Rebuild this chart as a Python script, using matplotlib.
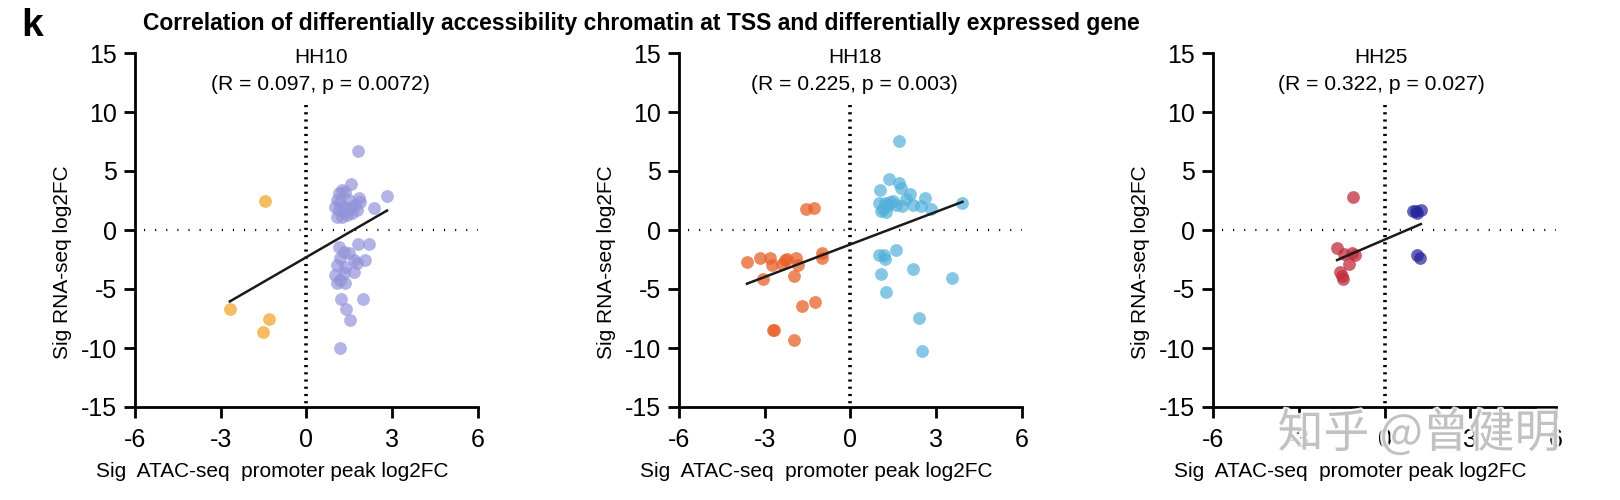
import matplotlib
matplotlib.use("Agg")
import matplotlib.pyplot as plt
import matplotlib.patheffects as pe
import numpy as np

plt.rcParams["font.family"] = ["Liberation Sans", "DejaVu Sans"]
plt.rcParams["axes.unicode_minus"] = False

# HH10
hh10_neg_x = [-1.45, -2.68, -1.31, -1.52]
hh10_neg_y = [2.48, -6.71, -7.56, -8.66]
hh10_pos_x = [1.81, 1.57, 2.82, 2.35, 1.25, 1.13, 1.36, 1.07, 1.19, 1.48, 1.83, 1.89,
              1.71, 1.31, 1.13, 1.54, 1.07, 1.25, 1.42, 1.60, 1.31, 1.77, 1.01,
              1.81, 2.18, 1.13, 1.31, 1.48, 1.19, 1.66, 2.06, 1.07, 1.36, 1.77,
              1.01, 1.31, 1.66, 1.07, 1.36, 1.19, 1.21, 1.97, 1.39, 1.54, 1.19]
hh10_pos_y = [6.69, 3.87, 2.88, 1.84, 3.39, 3.10, 3.25, 2.54, 2.40, 2.54, 2.68, 2.40,
              2.12, 1.98, 1.69, 1.84, 1.13, 1.13, 1.27, 1.41, 1.55, 1.69, 1.98,
              -1.19, -1.19, -1.41, -1.84, -1.98, -2.40, -2.54, -2.54, -2.97, -3.11, -2.82,
              -3.81, -3.67, -3.53, -4.52, -4.52, -4.24, -5.85, -5.85, -6.67, -7.63, -10.03]

# HH18
hh18_neg_x = [-3.62, -3.17, -2.82, -2.74, -3.06, -2.30, -2.22, -1.89, -1.83, -2.38,
              -1.98, -1.01, -1.01, -1.54, -1.28, -1.68, -1.25, -2.68, -2.71, -1.98]
hh18_neg_y = [-2.67, -2.39, -2.39, -2.98, -4.19, -2.56, -2.47, -2.39, -2.98, -2.84,
              -3.88, -1.99, -2.39, 1.74, 1.88, -6.43, -6.10, -8.48, -8.48, -9.33]
hh18_pos_x = [1.70, 1.35, 1.70, 1.78, 1.05, 2.10, 2.60, 1.94, 1.00, 1.20, 1.38, 1.49,
              1.32, 1.14, 1.26, 1.08, 1.61, 2.19, 2.48, 2.83, 1.81, 3.92,
              1.00, 1.17, 1.20, 1.61, 1.08, 2.19, 1.26, 3.56, 2.39, 2.52]
hh18_pos_y = [7.58, 4.33, 3.99, 3.54, 3.43, 3.03, 2.70, 2.64, 2.30, 2.30, 2.36, 2.50,
              2.08, 1.80, 1.52, 1.60, 2.08, 2.08, 2.02, 1.80, 2.02, 2.28,
              -2.13, -2.08, -2.42, -1.69, -3.71, -3.31, -5.28, -4.04, -7.42, -10.28]

# HH25
hh25_neg_x = [-1.09, -1.66, -1.41, -1.15, -1.02, -1.23, -1.56, -1.49, -1.44]
hh25_neg_y = [2.76, -1.52, -2.02, -1.94, -2.14, -2.92, -3.54, -3.91, -4.19]
hh25_pos_x = [1.09, 1.27, 1.15, 0.98, 1.12, 1.23]
hh25_pos_y = [1.57, 1.66, 1.43, 1.63, -2.08, -2.36]

stages = ["HH10", "HH18", "HH25"]
stats = ["(R = 0.097, p = 0.0072)", "(R = 0.225, p = 0.003)", "(R = 0.322, p = 0.027)"]
fit_slope = [1.40, 0.92, 1.04]
fit_intercept = [-2.30, -1.22, -0.82]
neg_colors = ["#F2A630", "#E8612A", "#C02E3C"]
pos_colors = ["#9393DA", "#52B0DA", "#24249A"]

neg_x = [hh10_neg_x, hh18_neg_x, hh25_neg_x]
neg_y = [hh10_neg_y, hh18_neg_y, hh25_neg_y]
pos_x = [hh10_pos_x, hh18_pos_x, hh25_pos_x]
pos_y = [hh10_pos_y, hh18_pos_y, hh25_pos_y]

fig = plt.figure(figsize=(16.2, 5), dpi=100)
lefts = [0.0833, 0.4191, 0.7488]
title_x = [0.5, 0.15, -0.12]

for i in range(3):
    ax = fig.add_axes([lefts[i], 0.186, 0.2117, 0.708])
    ax.set_xlim(-6, 6)
    ax.set_ylim(-15, 15)

    ax.plot([0, 0], [10.6, -15], color="black", linestyle=(0, (0.6, 1.4)), linewidth=2.6, zorder=1)
    ax.plot([-5.7, 6], [0, 0], color="black", linestyle=(0, (0.5, 4.5)), linewidth=1.6, zorder=1)

    ax.scatter(pos_x[i], pos_y[i], s=85, color=pos_colors[i], alpha=0.7, linewidths=0, zorder=2)
    ax.scatter(neg_x[i], neg_y[i], s=85, color=neg_colors[i], alpha=0.75, linewidths=0, zorder=2)

    all_x = np.array(neg_x[i] + pos_x[i])
    xs = np.array([all_x.min(), all_x.max()])
    ax.plot(xs, fit_slope[i] * xs + fit_intercept[i], color="#1a1a1a", linewidth=1.8, zorder=3)

    ax.text(title_x[i], 14.6, stages[i], ha="center", va="center", fontsize=15)
    ax.text(title_x[i], 12.3, stats[i], ha="center", va="center", fontsize=15.2)

    ax.spines["top"].set_visible(False)
    ax.spines["right"].set_visible(False)
    ax.spines["left"].set_linewidth(2)
    ax.spines["bottom"].set_linewidth(2)
    ax.set_xticks([-6, -3, 0, 3, 6])
    ax.set_yticks([-15, -10, -5, 0, 5, 10, 15])
    ax.tick_params(direction="out", length=8, width=2, labelsize=18, pad=5)
    ax.tick_params(axis="x", pad=7)
    ax.set_xlabel("Sig  ATAC-seq  promoter peak log2FC", fontsize=15)
    ax.set_ylabel("Sig RNA-seq log2FC", fontsize=15)
    ax.xaxis.set_label_coords(0.40, -0.155)
    ax.yaxis.set_label_coords(-0.183, 0.41)

fig.text(0.013, 0.948, "k", fontsize=28, fontweight="bold", va="center")
fig.text(0.396, 0.953, "Correlation of differentially accessibility chromatin at TSS and differentially expressed gene",
         fontsize=16.5, fontweight="bold", ha="center", va="center")

fig.text(0.876, 0.132, "知乎 @曾健明", fontsize=33, color="#b8b8b8", alpha=0.85, ha="center", va="center",
         family=["Noto Sans CJK SC", "DejaVu Sans"],
         path_effects=[pe.withStroke(linewidth=3, foreground="white")])

fig.savefig("out.png", dpi=100)
